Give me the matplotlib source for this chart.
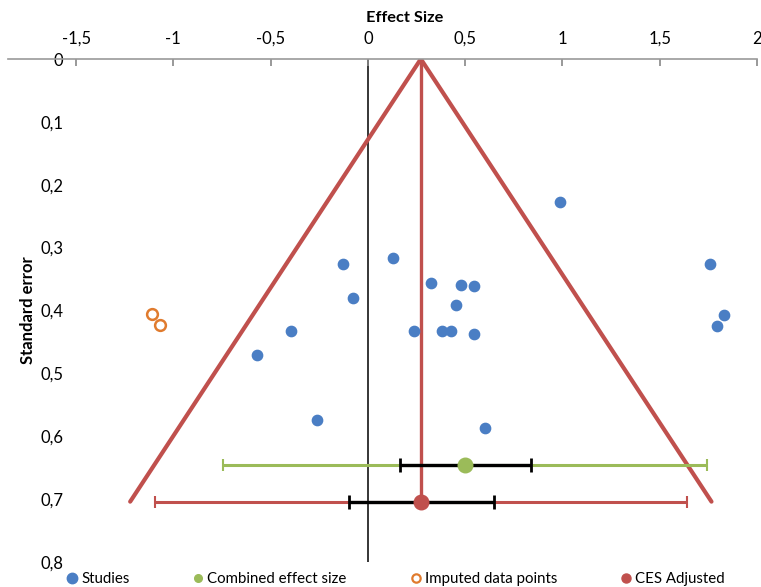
import numpy as np
from matplotlib import pyplot as plt
from matplotlib.lines import Line2D

plt.rcParams['font.family'] = ['Lato', 'DejaVu Sans']

# individual studies
study_es = [0.987, -0.130, 0.127, 0.324, 0.477, 0.545, -0.077, 0.452, 1.758,
            1.830, 1.793, -0.397, 0.237, 0.379, 0.425, 0.545, -0.572, -0.264, 0.602]
study_se = [0.227, 0.326, 0.317, 0.357, 0.360, 0.361, 0.380, 0.392, 0.326,
            0.407, 0.424, 0.433, 0.432, 0.432, 0.433, 0.437, 0.470, 0.574, 0.587]

# trim and fill imputed studies
imputed_es = [-1.112, -1.069]
imputed_se = [0.406, 0.423]

# combined effect size: estimate, se, CI, prediction interval
ces = 0.499
ces_se = 0.646
ces_ci = [0.165, 0.838]
ces_pi = [-0.744, 1.741]

# adjusted combined effect size
adj = 0.272
adj_se = 0.704
adj_ci = [-0.098, 0.650]
adj_pi = [-1.095, 1.642]

# funnel bottom corners
funnel_es = [-1.222, 0.272, 1.766]
funnel_se = [0.704, 0.0, 0.704]

xticks = [-1.5, -1, -0.5, 0, 0.5, 1, 1.5, 2]
xticklabels = ['-1,5', '-1', '-0,5', '0', '0,5', '1', '1,5', '2']
yticks = [0, 0.1, 0.2, 0.3, 0.4, 0.5, 0.6, 0.7, 0.8]
yticklabels = ['0', '0,1', '0,2', '0,3', '0,4', '0,5', '0,6', '0,7', '0,8']

blue = '#4A7EC4'
green = '#9BBB59'
orange = '#E07B2E'
red = '#C0504D'

fig = plt.figure(figsize=(7.61, 5.87), dpi=100)
ax = fig.add_axes([8 / 761, 1 - 562 / 587, 749 / 761, 503 / 587])

ax.axvline(0, color='black', lw=1.1, zorder=1)
ax.plot(funnel_es, funnel_se, color=red, lw=3, solid_capstyle='round', zorder=2)
ax.plot([adj, adj], [0, adj_se], color=red, lw=2.4, zorder=2)

# wide intervals
ax.errorbar(ces, ces_se, xerr=[[ces - ces_pi[0]], [ces_pi[1] - ces]], fmt='none',
            ecolor=green, elinewidth=2.2, capsize=4, capthick=1.5, zorder=3)
ax.errorbar(adj, adj_se, xerr=[[adj - adj_pi[0]], [adj_pi[1] - adj]], fmt='none',
            ecolor=red, elinewidth=2.2, capsize=4, capthick=1.5, zorder=3)
# confidence intervals
ax.errorbar(ces, ces_se, xerr=[[ces - ces_ci[0]], [ces_ci[1] - ces]], fmt='none',
            ecolor='black', elinewidth=2.4, capsize=5, capthick=2, zorder=4)
ax.errorbar(adj, adj_se, xerr=[[adj - adj_ci[0]], [adj_ci[1] - adj]], fmt='none',
            ecolor='black', elinewidth=2.4, capsize=5, capthick=2, zorder=4)

ax.scatter(study_es, study_se, s=55, color=blue, zorder=5)
ax.scatter(imputed_es, imputed_se, s=60, facecolors='white', edgecolors=orange,
           linewidths=1.8, zorder=5)
ax.scatter([ces], [ces_se], s=110, color=green, zorder=6)
ax.scatter([adj], [adj_se], s=110, color=red, zorder=6)

ax.set_xlim(-1.85, 2.0)
ax.set_ylim(0.8, 0)
ax.xaxis.tick_top()
ax.set_xticks(xticks)
ax.set_xticklabels(xticklabels)
ax.set_yticks(yticks)
ax.set_yticklabels(yticklabels)
ax.tick_params(axis='x', direction='in', length=5, width=1.2, color='#888888',
               pad=9, labelsize=12)
ax.tick_params(axis='y', length=0, pad=-40, labelsize=12)
for s in ['left', 'right', 'bottom']:
    ax.spines[s].set_visible(False)
ax.spines['top'].set_color('#999999')
ax.spines['top'].set_linewidth(1.2)

fig.text(405 / 761, 1 - 18 / 587, 'Effect Size', ha='center', va='center',
         fontsize=11.8, fontweight='bold')
fig.text(28 / 761, 1 - 310 / 587, 'Standard error', ha='center', va='center',
         rotation=90, fontsize=12, fontweight='bold')

handles = [
    Line2D([], [], ls='none', marker='o', ms=7.5, color=blue),
    Line2D([], [], ls='none', marker='o', ms=5.5, color=green),
    Line2D([], [], ls='none', marker='o', ms=6, mfc='white', mec=orange, mew=1.6),
    Line2D([], [], ls='none', marker='o', ms=6.5, color=red),
]
labels = ['Studies', 'Combined effect size', 'Imputed data points', 'CES Adjusted']
fig.legend(handles, labels, loc='center left', bbox_to_anchor=(60 / 761, 1 - 579 / 587),
           ncol=4, frameon=False, fontsize=10.8, handlelength=0.6, handletextpad=0.3,
           columnspacing=4.3, borderpad=0)

fig.savefig('out.png', dpi=100)
